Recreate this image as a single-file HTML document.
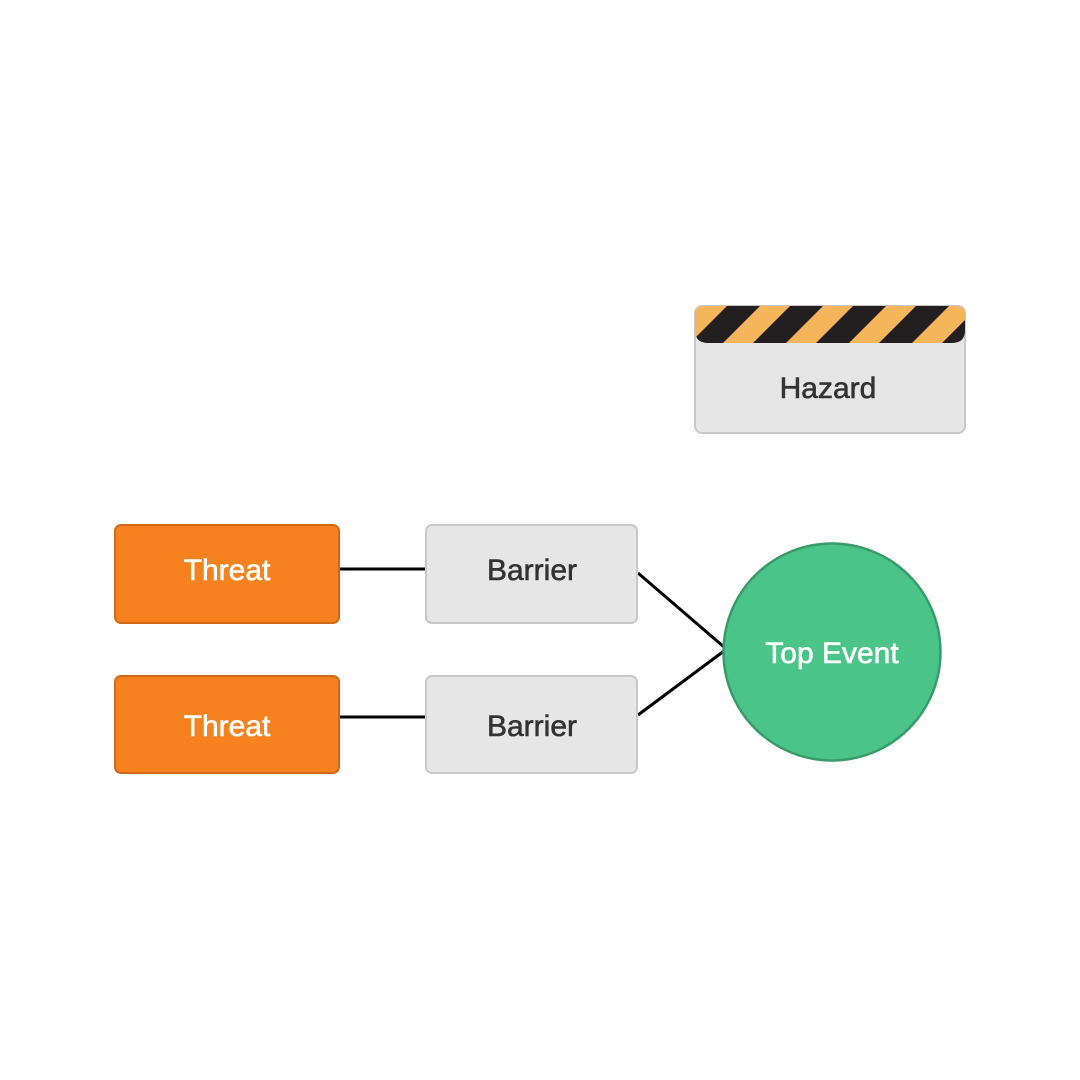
<!DOCTYPE html>
<html>
<head>
<meta charset="utf-8">
<style>
  html, body { margin: 0; padding: 0; background: #ffffff; }
  svg { display: block; }
  text { font-family: "Liberation Sans", "DejaVu Sans", sans-serif; font-size: 30px; stroke-width: 0.6px; }
</style>
</head>
<body>
<svg width="1080" height="1080" viewBox="0 0 1080 1080" xmlns="http://www.w3.org/2000/svg">
  <defs>
    <clipPath id="band">
      <path d="M695,315 Q695,306 704,306 L956,306 Q965,306 965,315 L965,330 Q965,343 952,343 L708,343 Q695,343 695,330 Z"/>
    </clipPath>
  </defs>
  <rect x="0" y="0" width="1080" height="1080" fill="#ffffff"/>

  <!-- connectors -->
  <line x1="340" y1="569" x2="425" y2="569" stroke="#000" stroke-width="3"/>
  <line x1="340" y1="717" x2="425" y2="717" stroke="#000" stroke-width="3"/>
  <line x1="638" y1="573" x2="724" y2="647" stroke="#000" stroke-width="3"/>
  <line x1="638" y1="715" x2="724" y2="651" stroke="#000" stroke-width="3"/>

  <!-- Hazard -->
  <rect x="695" y="306" width="270" height="127" rx="7" fill="#e6e6e6" stroke="#c8c8c8" stroke-width="2"/>
  <g clip-path="url(#band)">
    <rect x="690" y="300" width="280" height="50" fill="#f5b55b"/>
    <g fill="#231f20">
      <polygon points="665,305 698,305 660,343 627,343"/>
      <polygon points="728,305 761,305 723,343 690,343"/>
      <polygon points="791,305 824,305 786,343 753,343"/>
      <polygon points="854,305 887,305 849,343 816,343"/>
      <polygon points="917,305 950,305 912,343 879,343"/>
      <polygon points="980,305 1013,305 975,343 942,343"/>
    </g>
  </g>
  <text x="828" y="398" text-anchor="middle" fill="#333333" stroke="#333333">Hazard</text>

  <!-- Threats -->
  <rect x="115" y="525" width="224" height="98" rx="6" fill="#f5821f" stroke="#d2691a" stroke-width="2"/>
  <text x="227" y="580" text-anchor="middle" fill="#ffffff" stroke="#ffffff">Threat</text>
  <rect x="115" y="676" width="224" height="97" rx="6" fill="#f5821f" stroke="#d2691a" stroke-width="2"/>
  <text x="227" y="736" text-anchor="middle" fill="#ffffff" stroke="#ffffff">Threat</text>

  <!-- Barriers -->
  <rect x="426" y="525" width="211" height="98" rx="6" fill="#e6e6e6" stroke="#c8c8c8" stroke-width="2"/>
  <text x="532" y="580" text-anchor="middle" fill="#333333" stroke="#333333">Barrier</text>
  <rect x="426" y="676" width="211" height="97" rx="6" fill="#e6e6e6" stroke="#c8c8c8" stroke-width="2"/>
  <text x="532" y="736" text-anchor="middle" fill="#333333" stroke="#333333">Barrier</text>

  <!-- Top Event -->
  <circle cx="832" cy="652" r="108.5" fill="#4bc48a" stroke="#369c68" stroke-width="2.5"/>
  <text x="832" y="663" text-anchor="middle" fill="#ffffff" stroke="#ffffff" stroke-width="0.3">Top Event</text>
</svg>
</body>
</html>
